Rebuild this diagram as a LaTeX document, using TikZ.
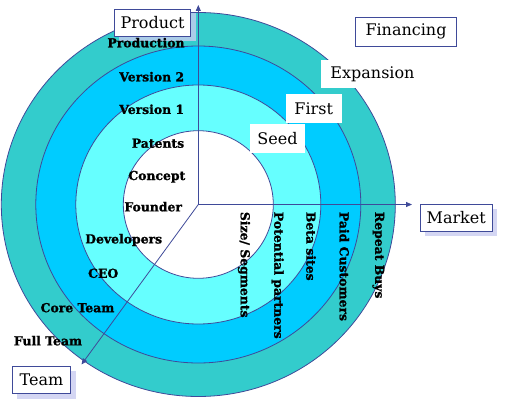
\documentclass[tikz,border=0pt]{standalone}
\usepackage{fontspec}
\setmainfont{DejaVu Serif}
\newfontfamily\heavyfont[FakeBold=1.2]{DejaVu Serif Bold}
\usetikzlibrary{arrows.meta}
\definecolor{ringA}{HTML}{33CCCC}
\definecolor{ringB}{HTML}{00CCFF}
\definecolor{ringC}{HTML}{66FFFF}
\definecolor{edge}{HTML}{3F4A99}
\definecolor{shade}{HTML}{C9CCF0}
\tikzset{
  ring/.style={draw=edge, line width=0.8pt},
  axis/.style={draw=edge, line width=0.8pt, -{Triangle[length=6pt,width=5pt]}},
  lbl/.style={font=\fontsize{12.4}{14}\selectfont\heavyfont, inner sep=0pt},
  vlbl/.style={font=\fontsize{12.4}{14}\selectfont\heavyfont, inner sep=0pt, rotate=-90, anchor=west},
  tbox/.style={draw=edge, line width=0.8pt, fill=white, font=\fontsize{16}{18}\selectfont, inner sep=0pt, align=center},
  wbox/.style={fill=white, font=\fontsize{16}{18}\selectfont, inner sep=0pt, align=center},
  shadowbox/.style={fill=shade, draw=none, opacity=0.8}
}
\begin{document}
\begin{tikzpicture}[x=1pt,y=-1pt]
\useasboundingbox (0,0) rectangle (505,409);
\coordinate (o) at (198.3,204.5);
% rings
\fill[ring, fill=ringA] (o) ellipse [x radius=197, y radius=192];
\fill[ring, fill=ringB] (o) ellipse [x radius=162.5, y radius=158.5];
\fill[ring, fill=ringC] (o) ellipse [x radius=122.5, y radius=119.5];
\fill[ring, fill=white] (o) ellipse [x radius=75, y radius=73.8];
% axes
\coordinate (ptip) at (198.3,5);
\coordinate (mtip) at (412,204.5);
\coordinate (ttip) at (81.5,364.5);
\draw[axis] (o) -- (ptip);
\draw[axis] (o) -- (mtip);
\draw[axis] (o) -- (ttip);
% shadows
\fill[shadowbox] (118.5,13.5) rectangle (196,41);
\fill[shadowbox] (424.5,208.5) rectangle (497,236);
\fill[shadowbox] (17,370.5) rectangle (75.5,398.5);
% boxes
\node[tbox, minimum width=76.4pt, minimum height=26.7pt] (product) at (152.5,22.7) {Product};
\node[tbox, minimum width=101.7pt, minimum height=28.7pt] (financing) at (406,31.7) {Financing};
\node[tbox, minimum width=72.3pt, minimum height=27pt] (market) at (456.2,217.8) {Market};
\node[tbox, minimum width=58.4pt, minimum height=27.3pt] (team) at (41.5,379.7) {Team};
\node[wbox, minimum width=104pt, minimum height=28pt] (expansion) at (372.5,74) {Expansion};
\node[wbox, minimum width=56pt, minimum height=28.7pt] (first) at (313.7,108.3) {First};
\node[wbox, minimum width=55pt, minimum height=28.7pt] (seed) at (277.5,138.3) {Seed};
% product labels
\node[lbl] (production) at (146,42.7) {Production};
\node[lbl] (version2) at (151.7,76.7) {Version 2};
\node[lbl] (version1) at (151.7,109.3) {Version 1};
\node[lbl] (patents) at (158,143.3) {Patents};
\node[lbl] (concept) at (156.8,176.7) {Concept};
\node[lbl] (founder) at (153.2,206.7) {Founder};
% team labels
\node[lbl] (developers) at (123.7,240) {Developers};
\node[lbl] (ceo) at (103.2,273.3) {CEO};
\node[lbl] (coreteam) at (77.5,307.7) {Core Team};
\node[lbl] (fullteam) at (48,340.7) {Full Team};
% market labels
\node[vlbl] (size) at (244,211.7) {Size/ Segments};
\node[vlbl] (partners) at (277.7,211.7) {Potential partners};
\node[vlbl] (beta) at (311,211.7) {Beta sites};
\node[vlbl] (paid) at (344.3,211.7) {Paid Customers};
\node[vlbl] (repeat) at (378.3,211.7) {Repeat Buys};
\end{tikzpicture}
\end{document}
